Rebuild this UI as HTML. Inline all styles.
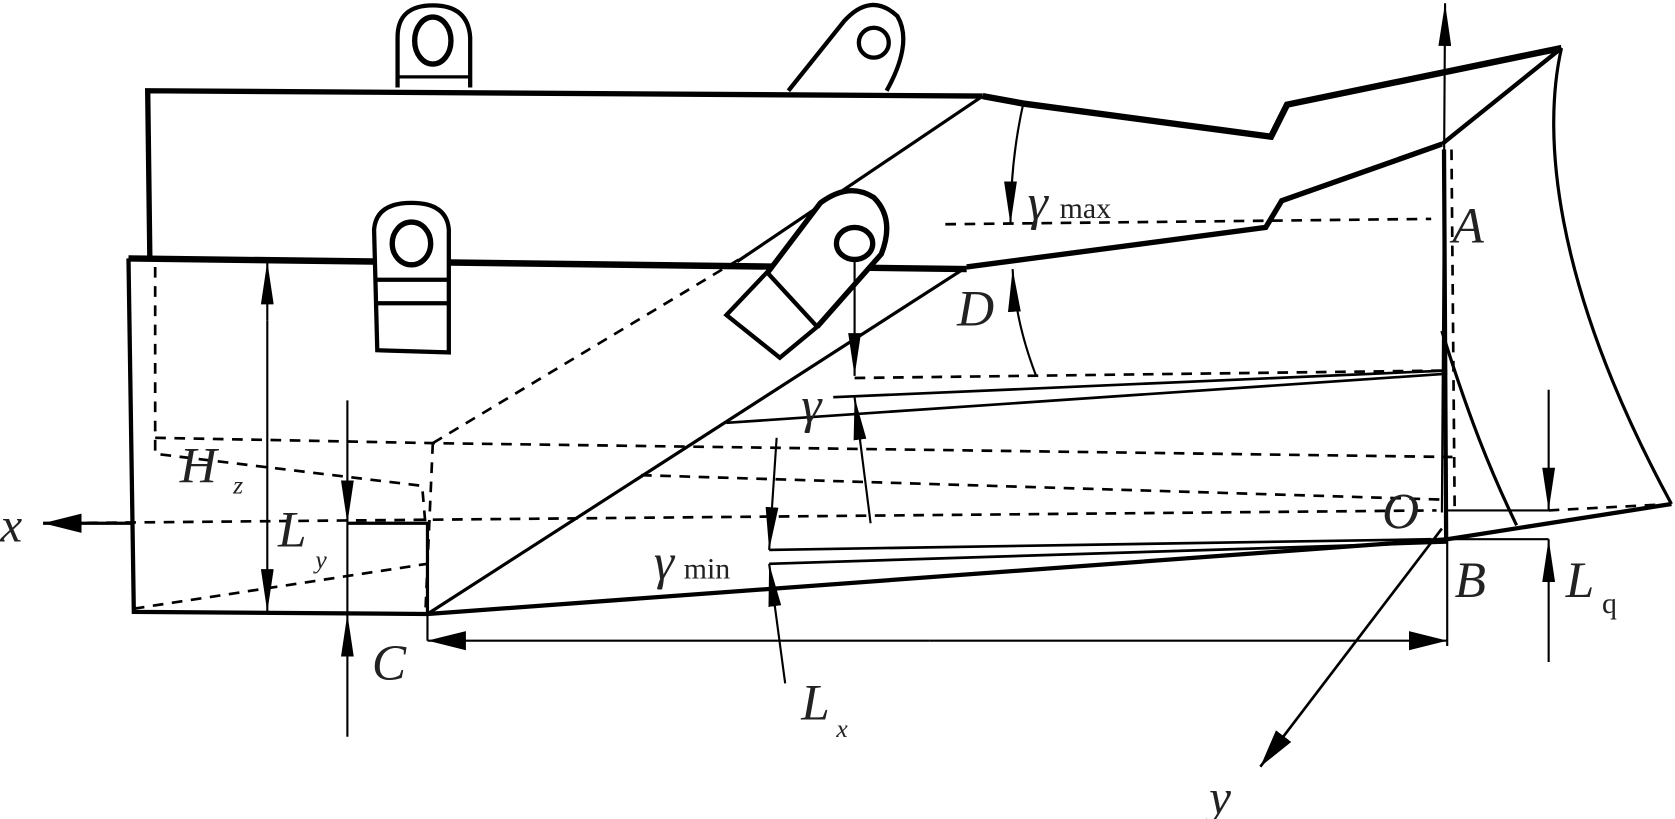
<!DOCTYPE html>
<html><head><meta charset="utf-8"><style>
html,body{margin:0;padding:0;background:#fff;width:1675px;height:819px;overflow:hidden}
svg{display:block}
text{font-family:"Liberation Serif",serif;fill:#222}
.it{font-style:italic}
</style></head><body>
<svg width="1675" height="819" viewBox="0 0 1568 767" xmlns="http://www.w3.org/2000/svg">
<defs>
<marker id="ar" viewBox="0 0 40 12" refX="40" refY="6" markerWidth="40" markerHeight="12" markerUnits="userSpaceOnUse" orient="auto"><path d="M0,0 L40,6 L0,12z" fill="#000"/></marker>
<marker id="ab" viewBox="0 0 36 18" refX="36" refY="9" markerWidth="36" markerHeight="18" markerUnits="userSpaceOnUse" orient="auto"><path d="M0,0 L36,9 L0,18z" fill="#000"/></marker>
</defs>
<g fill="none" stroke="#000" stroke-linejoin="miter">
<!-- top lugs -->
<path d="M372,82 L372,35 Q372,5 405,5 Q438,5 440,35 L440,82" stroke-width="4" fill="#fff"/>
<line x1="372" y1="72" x2="440" y2="72" stroke-width="3"/>
<ellipse cx="405" cy="38" rx="17" ry="22" stroke-width="5"/>
<path d="M738,85 L790,20 Q815,-8 840,15 Q855,40 830,85" stroke-width="4" fill="#fff"/>
<circle cx="818" cy="40" r="14" stroke-width="4"/>
<!-- top plate -->
<path d="M140,242 L138,85 L920,90" stroke-width="5"/>
<path d="M920,90 L958,97 L1190,128 L1205,98 L1462,45" stroke-width="6"/>
<path d="M1462,45 L1350,135" stroke-width="4"/>
<path d="M1350,135 L1200,188 L1185,213 L905,250" stroke-width="5"/>
<path d="M1462,45 C1445,120 1450,260 1565,472" stroke-width="3"/>
<path d="M1350,310 C1375,390 1395,440 1420,492" stroke-width="3"/>
<line x1="920" y1="90" x2="690" y2="245" stroke-width="3"/>
<!-- lower plate -->
<path d="M120,242 L905,252" stroke-width="6"/>
<path d="M120,242 L125,573 L400,575" stroke-width="4"/>
<line x1="905" y1="250" x2="400" y2="575" stroke-width="3"/>
<path d="M400,575 L1355,505 L1565,472" stroke-width="4"/>
<path d="M325,490 L400,490 L400,575" stroke-width="3"/>
<!-- lower lug -->
<path d="M353,328 L350,215 Q352,190 385,190 Q418,190 420,215 L420,330 Z" stroke-width="4" fill="#fff"/>
<line x1="352" y1="262" x2="420" y2="262" stroke-width="4"/>
<line x1="352" y1="284" x2="420" y2="284" stroke-width="4"/>
<ellipse cx="385" cy="228" rx="18" ry="20" stroke-width="5"/>
<!-- middle lug -->
<path d="M715,260 L768,190 Q795,170 818,185 Q838,205 825,238 L765,306" stroke-width="5" fill="#fff"/>
<path d="M680,295 L718,255 L765,306 L730,335 Z" stroke-width="4" fill="#fff"/>
<ellipse cx="800" cy="228" rx="17" ry="15" stroke-width="5"/>
<!-- vertical at B / z-axis -->
<line x1="1352" y1="140" x2="1354" y2="505" stroke-width="4"/>
<line x1="1350" y1="480" x2="1353" y2="3" stroke-width="2" marker-end="url(#ar)"/>
<line x1="1355" y1="505" x2="1355" y2="605" stroke-width="2"/>
<!-- dashed lines -->
<g stroke-dasharray="10,8" stroke-width="2.5">
<line x1="1359" y1="140" x2="1362" y2="480"/>
<line x1="885" y1="210" x2="1340" y2="205"/>
<line x1="800" y1="354" x2="1352" y2="347"/>
<path d="M145,250 L145,425 L395,455 L398,490"/>
<path d="M145,410 L405,415 L1360,428"/>
<line x1="405" y1="415" x2="700" y2="238"/>
<line x1="405" y1="415" x2="398" y2="575"/>
<line x1="125" y1="570" x2="400" y2="528"/>
<line x1="45" y1="490" x2="1345" y2="478"/>
<line x1="1450" y1="478" x2="1565" y2="472"/>
<line x1="600" y1="445" x2="1355" y2="468"/>
</g>
<!-- γ lines -->
<line x1="780" y1="372" x2="1355" y2="347" stroke-width="2.5"/>
<line x1="680" y1="396" x2="1355" y2="350" stroke-width="2.5"/>
<line x1="720" y1="515" x2="1340" y2="505" stroke-width="2.5"/>
<line x1="720" y1="528" x2="1355" y2="508" stroke-width="2.5"/>
<line x1="1355" y1="478" x2="1450" y2="478" stroke-width="2"/>
<line x1="1355" y1="505" x2="1450" y2="505" stroke-width="2"/>
<!-- dimension lines -->
<line x1="250" y1="300" x2="250" y2="245" stroke-width="2" marker-end="url(#ar)"/>
<line x1="250" y1="300" x2="250" y2="573" stroke-width="2" marker-end="url(#ar)"/>
<line x1="325" y1="375" x2="325" y2="490" stroke-width="2" marker-end="url(#ar)"/>
<line x1="325" y1="690" x2="325" y2="575" stroke-width="2" marker-end="url(#ar)"/>
<line x1="325" y1="490" x2="325" y2="575" stroke-width="2"/>
<line x1="400" y1="575" x2="400" y2="600" stroke-width="2"/>
<line x1="800" y1="245" x2="800" y2="352" stroke-width="2" marker-end="url(#ar)"/>
<line x1="815" y1="490" x2="800" y2="372" stroke-width="2" marker-end="url(#ar)"/>
<line x1="727" y1="410" x2="720" y2="515" stroke-width="2" marker-end="url(#ar)"/>
<line x1="735" y1="640" x2="720" y2="528" stroke-width="2" marker-end="url(#ar)"/>
<path d="M958,97 Q946,150 946,210" stroke-width="2" marker-end="url(#ar)"/>
<path d="M970,352 Q950,300 948,252" stroke-width="2" marker-end="url(#ar)"/>
<line x1="1450" y1="365" x2="1450" y2="478" stroke-width="2" marker-end="url(#ar)"/>
<line x1="1450" y1="620" x2="1450" y2="505" stroke-width="2" marker-end="url(#ar)"/>
<line x1="870" y1="600" x2="400" y2="600" stroke-width="2" marker-end="url(#ab)"/>
<line x1="870" y1="600" x2="1355" y2="600" stroke-width="2" marker-end="url(#ab)"/>
<line x1="125" y1="490" x2="40" y2="490" stroke-width="3" marker-end="url(#ab)"/>
<line x1="1350" y1="495" x2="1180" y2="718" stroke-width="2.5" marker-end="url(#ab)"/>
</g>
<text x="0" y="507" class="it" font-size="46">x</text>
<text x="1132" y="762" class="it" font-size="46">y</text>
<text x="168" y="452" class="it" font-size="48">H</text><text x="218" y="462" class="it" font-size="24">z</text>
<text x="260" y="512" class="it" font-size="48">L</text><text x="295" y="532" class="it" font-size="24">y</text>
<text x="348" y="637" class="it" font-size="48">C</text>
<text x="750" y="674" class="it" font-size="48">L</text><text x="783" y="690" class="it" font-size="24">x</text>
<text x="612" y="542" class="it" font-size="48">γ</text><text x="640" y="542" font-size="28">min</text>
<text x="750" y="395" class="it" font-size="48">γ</text>
<text x="962" y="205" class="it" font-size="48">γ</text><text x="992" y="204" font-size="28">max</text>
<text x="896" y="305" class="it" font-size="48">D</text>
<text x="1360" y="227" class="it" font-size="48">A</text>
<text x="1294" y="495" class="it" font-size="48">O</text>
<text x="1362" y="559" class="it" font-size="48">B</text>
<text x="1466" y="559" class="it" font-size="48">L</text><text x="1500" y="574" font-size="28">q</text>
</svg>
</body></html>
